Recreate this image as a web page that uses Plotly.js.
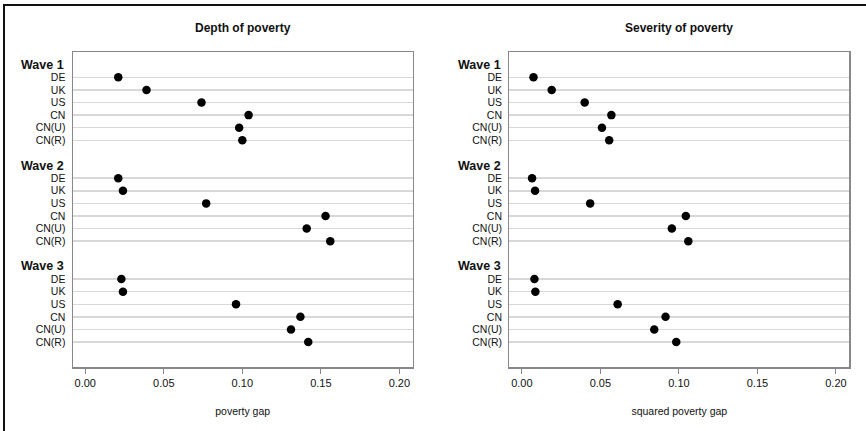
<!DOCTYPE html>
<html>
<head>
<meta charset="utf-8">
<script src="https://cdn.plot.ly/plotly-3.0.1.min.js"></script>
<style>
  html, body { margin: 0; padding: 0; background: #fff; }
  #wrap { position: relative; width: 866px; height: 431px; overflow: hidden; }
  #chart { position: absolute; left: 0; top: 0; width: 866px; height: 431px; }
  #frame { position: absolute; left: 3px; top: 4px; width: 900px; height: 500px;
           border-top: 2.5px solid #111; border-left: 2.5px solid #111; pointer-events: none; }
</style>
</head>
<body>
<div id="wrap"><div id="chart"></div><div id="frame"></div></div>
<script>
// ---- data ----
const waves = ["Wave 1", "Wave 2", "Wave 3"];
const countries = ["DE", "UK", "US", "CN", "CN(U)", "CN(R)"];
const depthWave1 = [0.021, 0.039, 0.074, 0.104, 0.098, 0.100];
const depthWave2 = [0.021, 0.024, 0.077, 0.153, 0.141, 0.156];
const depthWave3 = [0.023, 0.024, 0.096, 0.137, 0.131, 0.142];
const severityWave1 = [0.0074, 0.019, 0.040, 0.057, 0.051, 0.0556];
const severityWave2 = [0.0065, 0.0084, 0.0435, 0.1044, 0.0955, 0.106];
const severityWave3 = [0.008, 0.0086, 0.061, 0.0915, 0.0843, 0.0983];
const xTickVals = [0, 0.05, 0.10, 0.15, 0.20];
const xTickText = ["0.00", "0.05", "0.10", "0.15", "0.20"];
const panelTitles = ["Depth of poverty", "Severity of poverty"];
const axisTitles = ["poverty gap", "squared poverty gap"];

const depth = [depthWave1, depthWave2, depthWave3];
const severity = [severityWave1, severityWave2, severityWave3];

// row slots: each wave block = header row + 6 country rows + 1 blank row
const slotsPerWave = countries.length + 2;
function rowOf(w, c) { return w * slotsPerWave + 1 + c; }

const xs1 = [], ys = [], xs2 = [], tickVals = [], tickText = [];
waves.forEach((w, wi) => {
  countries.forEach((c, ci) => {
    xs1.push(depth[wi][ci]);
    xs2.push(severity[wi][ci]);
    ys.push(rowOf(wi, ci));
    tickVals.push(rowOf(wi, ci));
    tickText.push(c);
  });
});

const font = "Liberation Sans, Arial, Helvetica, sans-serif";
const marker = { color: "#000", size: 8.5 };

const traces = [
  { type: "scatter", mode: "markers", x: xs1, y: ys, xaxis: "x", yaxis: "y", marker: marker, hoverinfo: "x" },
  { type: "scatter", mode: "markers", x: xs2, y: ys, xaxis: "x2", yaxis: "y2", marker: marker, hoverinfo: "x" }
];

const yTop = -1.03, yBottom = (waves.length) * slotsPerWave;

function xAxis(domain, anchor, title) {
  return {
    domain: domain, anchor: anchor, range: [-0.008, 0.2085],
    tickvals: xTickVals, ticktext: xTickText,
    ticks: "outside", ticklen: 5, tickwidth: 1, tickcolor: "#888",
    showgrid: false, zeroline: false,
    showline: true, mirror: true, linecolor: "#888", linewidth: 1.2,
    tickfont: { family: font, size: 11, color: "#111" },
    title: { text: title, font: { family: font, size: 10.5, color: "#111" }, standoff: 20 },
    fixedrange: true
  };
}
function yAxis(domain, anchor) {
  return {
    domain: domain, anchor: anchor, range: [yBottom, yTop],
    tickvals: tickVals, ticktext: tickText, ticks: "",
    showgrid: true, gridcolor: "#d8d8d8", gridwidth: 1.5,
    zeroline: false, showline: true, mirror: true, linecolor: "#888", linewidth: 1.2,
    tickfont: { family: font, size: 10.5, color: "#111" },
    ticklabelstandoff: 4,
    fixedrange: true
  };
}

const W = 866, H = 431;
const d1 = [72.7 / W, 412.7 / W];
const d2 = [509.3 / W, 849.3 / W];
const dy = [1 - 367.3 / H, 1 - 51.7 / H];

const annotations = [];
[d1, d2].forEach((d, pi) => {
  annotations.push({
    xref: "paper", yref: "paper", x: (d[0] + d[1]) / 2, y: 1 - 28 / H,
    xanchor: "center", yanchor: "middle", showarrow: false,
    text: "<b>" + panelTitles[pi] + "</b>",
    font: { family: font, size: 12, color: "#111" }
  });
  waves.forEach((w, wi) => {
    annotations.push({
      xref: "paper", yref: pi === 0 ? "y" : "y2",
      x: d[0] - 6.5 / W, y: wi * slotsPerWave,
      xanchor: "right", yanchor: "middle", showarrow: false,
      text: "<b>" + w + "</b>",
      font: { family: font, size: 12.5, color: "#111" }
    });
  });
});

const layout = {
  width: W, height: H,
  margin: { l: 0, r: 0, t: 0, b: 0 },
  paper_bgcolor: "#fff", plot_bgcolor: "#fff",
  showlegend: false,
  xaxis: xAxis(d1, "y", axisTitles[0]),
  yaxis: yAxis(dy, "x"),
  xaxis2: xAxis(d2, "y2", axisTitles[1]),
  yaxis2: yAxis(dy, "x2"),
  annotations: annotations
};

Plotly.newPlot("chart", traces, layout, { displayModeBar: false, staticPlot: true });
</script>
</body>
</html>
